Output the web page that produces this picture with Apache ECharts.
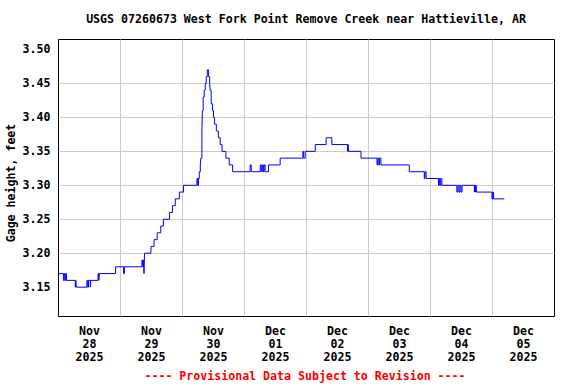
<!DOCTYPE html>
<html><head><meta charset="utf-8">
<script src="https://cdn.jsdelivr.net/npm/echarts@6/dist/echarts.min.js"></script>
<style>html,body{margin:0;padding:0;background:#fff}#c{width:576px;height:384px}</style>
</head><body><div id="c"></div>
<script>
// Hours since 2025-11-28 00:00 (value holds until next entry)
const hours = [0, 1.9, 2.2, 2.5, 2.8, 3.1,
  6.5, 6.7, 6.9, 11.0, 11.3, 11.6, 12.3, 12.5,
  15.3, 15.6, 15.8, 22.1, 25.2, 25.5,
  32.3, 32.6, 32.9, 33.1, 33.3,
  35.8, 37.0, 38.2, 39.6, 40.6,
  43.0, 44.1, 45.2, 46.8, 48.4,
  53.6, 53.9, 54.2, 54.5,
  54.9, 55.1, 55.5, 55.7, 56.0, 56.4, 56.8, 57.2, 57.6, 58.1, 58.5, 58.7, 59.1, 59.6, 60.0, 60.4, 61.1, 61.9, 62.6, 63.3,
  64.8, 66.1, 67.4, 74.2, 74.6, 78.1, 78.5, 78.9, 79.3, 79.6, 80.0, 81.3,
  85.8, 94.6, 94.9, 95.5, 99.4, 103.6, 105.8, 111.9, 112.1, 112.3,
  117.1, 123.3, 123.6, 124.0, 124.3, 124.8, 135.8, 141.6, 141.9, 142.3,
  147.1, 147.4, 147.7, 148.0, 148.4, 154.2, 154.6, 155.0, 155.4, 155.8, 156.2,
  161.0, 161.2, 161.4, 161.6, 161.8, 167.8, 168.1, 168.4, 172.6];
const stage = [3.17, 3.16, 3.17, 3.16, 3.17, 3.16,
  3.15, 3.16, 3.15, 3.16, 3.15, 3.16, 3.15, 3.16,
  3.17, 3.16, 3.17, 3.18, 3.17, 3.18,
  3.19, 3.18, 3.19, 3.17, 3.20,
  3.21, 3.22, 3.23, 3.24, 3.25,
  3.26, 3.27, 3.28, 3.29, 3.30,
  3.31, 3.30, 3.31, 3.32,
  3.33, 3.34, 3.38, 3.41, 3.43, 3.44, 3.45, 3.46, 3.47, 3.46, 3.45, 3.44, 3.42, 3.41, 3.40, 3.39, 3.38, 3.37, 3.36, 3.35,
  3.34, 3.33, 3.32, 3.33, 3.32, 3.33, 3.32, 3.33, 3.32, 3.33, 3.32, 3.33,
  3.34, 3.35, 3.34, 3.35, 3.36, 3.37, 3.36, 3.35, 3.36, 3.35,
  3.34, 3.33, 3.34, 3.33, 3.34, 3.33, 3.32, 3.31, 3.32, 3.31,
  3.30, 3.31, 3.30, 3.31, 3.30, 3.29, 3.30, 3.29, 3.30, 3.29, 3.30,
  3.29, 3.30, 3.29, 3.30, 3.29, 3.28, 3.29, 3.28, 3.28];
const dayLabels = ['Nov\n28\n2025', 'Nov\n29\n2025', 'Nov\n30\n2025', 'Dec\n01\n2025',
  'Dec\n02\n2025', 'Dec\n03\n2025', 'Dec\n04\n2025', 'Dec\n05\n2025'];
const yTicks = [3.15, 3.20, 3.25, 3.30, 3.35, 3.40, 3.45, 3.50];
const titleText = 'USGS 07260673 West Fork Point Remove Creek near Hattieville, AR';
const yName = 'Gage height, feet';
const footerText = '---- Provisional Data Subject to Revision ----';

const FONT = '"DejaVu Sans Mono", "Liberation Mono", monospace';
const chart = echarts.init(document.getElementById('c'), null, {renderer: 'svg'});
chart.setOption({
  animation: false,
  backgroundColor: '#fff',
  grid: {left: 58.5, right: 21.5, top: 39.5, bottom: 67.5, show: true, borderColor: '#000', borderWidth: 1,
         containLabel: false, outerBoundsMode: 'none'},
  xAxis: [
    {type: 'value', min: 0, max: 192, interval: 24, position: 'bottom',
     axisLine: {show: false}, axisTick: {show: false}, axisLabel: {show: false},
     splitLine: {show: true, showMinLine: false, showMaxLine: false, lineStyle: {color: '#cccccc', width: 1}}},
    {type: 'category', data: dayLabels, boundaryGap: true, position: 'bottom',
     axisLine: {show: false}, axisTick: {show: false}, splitLine: {show: false},
     axisLabel: {interval: 0, margin: 8, lineHeight: 13, color: '#000', fontFamily: FONT,
                 fontWeight: 'bold', fontSize: 11.6, align: 'center'}}
  ],
  yAxis: {
    type: 'value', min: 3.1068, max: 3.5147,
    axisLine: {show: false},
    axisTick: {show: false, customValues: yTicks},
    axisLabel: {customValues: yTicks, margin: 8, color: '#000', fontFamily: FONT, fontWeight: 'bold',
                fontSize: 11.6, formatter: v => Number(v).toFixed(2)},
    splitLine: {show: true, showMinLine: false, showMaxLine: false, lineStyle: {color: '#cccccc', width: 1}}
  },
  graphic: [
    {type: 'text', x: 306, y: 19, style: {text: titleText, fill: '#000', font: 'bold 11.6px ' + FONT,
      align: 'center', verticalAlign: 'middle'}},
    {type: 'text', x: 11, y: 183, rotation: Math.PI / 2, style: {text: yName, fill: '#000',
      font: 'bold 11.6px ' + FONT, align: 'center', verticalAlign: 'middle'}},
    {type: 'text', x: 305, y: 376, style: {text: footerText, fill: '#ff0000', font: 'bold 11.6px ' + FONT,
      align: 'center', verticalAlign: 'middle'}}
  ],
  series: [{
    type: 'line', xAxisIndex: 0, step: 'end', showSymbol: false, symbol: 'none',
    lineStyle: {color: '#0000ff', width: 1}, silent: true,
    data: hours.map((h, i) => [h, stage[i]])
  }]
});
</script></body></html>
